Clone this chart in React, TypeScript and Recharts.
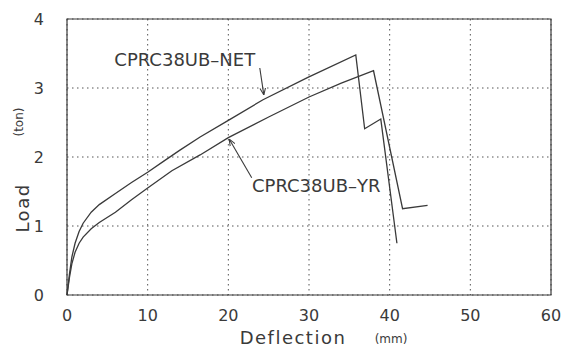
import { LineChart, Line, XAxis, YAxis, CartesianGrid, ReferenceArea, ReferenceLine, ReferenceDot } from 'recharts';

// deflection (mm) / load (ton)
const netDeflection = [0, 0.3, 0.6, 1, 1.5, 2, 3, 4, 6, 8, 10, 12, 14, 16.5, 20, 24.3, 29.8, 35.8, 36.9, 38.9, 40.9];
const netLoad = [0, 0.3, 0.55, 0.75, 0.92, 1.04, 1.2, 1.31, 1.47, 1.63, 1.78, 1.94, 2.1, 2.29, 2.53, 2.83, 3.15, 3.48, 2.41, 2.55, 0.75];

const yrDeflection = [0, 0.3, 0.6, 1, 1.5, 2, 3, 4, 6, 8, 10, 13, 16.5, 20, 25, 30, 34, 38, 41.6, 44.7];
const yrLoad = [0, 0.25, 0.45, 0.62, 0.75, 0.84, 0.96, 1.05, 1.2, 1.38, 1.55, 1.8, 2.03, 2.28, 2.58, 2.87, 3.07, 3.25, 1.25, 1.3];

const xTicks = [0, 10, 20, 30, 40, 50, 60];
const yTicks = [0, 1, 2, 3, 4];

const netData = netDeflection.map((d, i) => ({ d, load: netLoad[i] }));
const yrData = yrDeflection.map((d, i) => ({ d, load: yrLoad[i] }));

const INK = '#3a3a3a';
const FONT = '"DejaVu Sans", sans-serif';

const XLabel = ({ viewBox }: any) => {
  const { x } = viewBox;
  return (
    <g fontFamily={FONT} fill={INK}>
      <text x={x + 226} y={344} textAnchor="middle" fontSize={18} letterSpacing={1.5}>Deflection</text>
      <text x={x + 324} y={343} textAnchor="middle" fontSize={12}>(mm)</text>
    </g>
  );
};

const YLabel = () => (
  <g fontFamily={FONT} fill={INK}>
    <text x={22} y={208} transform="rotate(-90 22 208)" textAnchor="middle" dominantBaseline="central" fontSize={18} letterSpacing={1.5}>Load</text>
    <text x={19} y={122} transform="rotate(-90 19 122)" textAnchor="middle" dominantBaseline="central" fontSize={12}>(ton)</text>
  </g>
);

export default function App() {
  return (
    <div style={{ position: 'absolute', left: 0, top: 0, background: '#fff' }}>
      <svg width={0} height={0} style={{ position: 'absolute' }}>
        <defs>
          <marker id="arrow" viewBox="0 0 10 10" refX="10" refY="5" markerWidth="7" markerHeight="7" orient="auto" markerUnits="userSpaceOnUse">
            <path d="M0,1 L10,5 L0,9" fill="none" stroke={INK} strokeWidth={1.5} />
          </marker>
        </defs>
      </svg>
      <LineChart width={565} height={349} margin={{ top: 19, right: 14, bottom: 24, left: 0 }}>
        <CartesianGrid strokeDasharray="1.5 3.5" stroke="#555" />
        <XAxis
          type="number"
          dataKey="d"
          domain={[0, 60]}
          ticks={xTicks}
          height={30}
          tickLine={false}
          axisLine={false}
          tickMargin={9}
          tick={{ fontSize: 16, fill: INK, fontFamily: FONT }}
          label={<XLabel />}
        />
        <YAxis
          type="number"
          dataKey="load"
          domain={[0, 4]}
          ticks={yTicks}
          width={67}
          tickLine={false}
          axisLine={false}
          tickMargin={17}
          tick={{ fontSize: 16, fill: INK, fontFamily: FONT }}
          label={<YLabel />}
        />
        <ReferenceArea x1={0} x2={60} y1={0} y2={4} fill="none" stroke={INK} strokeWidth={1.2} />
        <Line data={netData} dataKey="load" type="linear" stroke={INK} strokeWidth={1.3} dot={false} isAnimationActive={false} />
        <Line data={yrData} dataKey="load" type="linear" stroke={INK} strokeWidth={1.3} dot={false} isAnimationActive={false} />
        <ReferenceLine segment={[{ x: 23.9, y: 3.29 }, { x: 24.4, y: 2.9 }]} stroke={INK} strokeWidth={1.1} markerEnd="url(#arrow)" />
        <ReferenceLine segment={[{ x: 22.9, y: 1.7 }, { x: 20.1, y: 2.26 }]} stroke={INK} strokeWidth={1.1} markerEnd="url(#arrow)" />
        <ReferenceDot x={14.6} y={3.41} r={0} stroke="none" fill="none"
          label={{ value: 'CPRC38UB–NET', position: 'center', fontSize: 18, fill: INK, fontFamily: FONT }} />
        <ReferenceDot x={30.9} y={1.59} r={0} stroke="none" fill="none"
          label={{ value: 'CPRC38UB–YR', position: 'center', fontSize: 18, fill: INK, fontFamily: FONT }} />
      </LineChart>
    </div>
  );
}
